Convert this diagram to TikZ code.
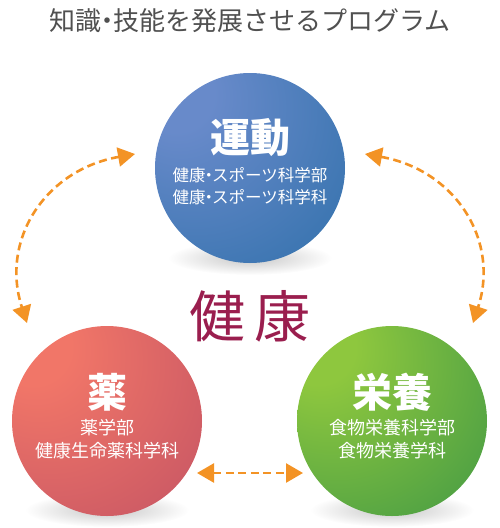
\documentclass[tikz,border=0pt]{standalone}
\usepackage{fontspec}
\newfontfamily\jp{Noto Sans CJK JP}
\usetikzlibrary{arrows.meta}
\definecolor{blueA}{RGB}{104,138,202}
\definecolor{blueB}{RGB}{26,102,158}
\definecolor{redA}{RGB}{241,118,104}
\definecolor{redB}{RGB}{178,70,98}
\definecolor{greenA}{RGB}{142,199,62}
\definecolor{greenB}{RGB}{34,134,72}
\definecolor{arrowc}{RGB}{243,147,37}
\definecolor{titlec}{RGB}{80,80,80}
\definecolor{kenkoc}{RGB}{154,30,78}
\pgfdeclareradialshading{blueball}{\pgfpoint{-22bp}{22bp}}{color(0bp)=(blueA); color(10bp)=(blueA); color(68bp)=(blueB); color(90bp)=(blueB)}
\pgfdeclareradialshading{redball}{\pgfpoint{-22bp}{22bp}}{color(0bp)=(redA); color(10bp)=(redA); color(68bp)=(redB); color(90bp)=(redB)}
\pgfdeclareradialshading{greenball}{\pgfpoint{-22bp}{22bp}}{color(0bp)=(greenA); color(10bp)=(greenA); color(68bp)=(greenB); color(90bp)=(greenB)}
\newcommand\nakaguro[1]{\kern-#1・\kern-#1}
\tikzset{
  ballnode/.style={circle, minimum size=190pt, inner sep=0pt, shade},
  heading/.style={text=white, font=\jp\bfseries\fontsize{40}{44}\selectfont},
  subtext/.style={text=white, align=center},
  link/.style={draw=arrowc, line width=2.6pt, dash pattern=on 8pt off 4.5pt,
    {Triangle[length=17pt,width=19pt]}-{Triangle[length=17pt,width=19pt]}},
}
\begin{document}
\begin{tikzpicture}[x=1pt,y=-1pt]
\useasboundingbox (0,0) rectangle (500,528);
% shadows
\foreach \cx/\cy in {250/258,107/510,392/510}{
  \shade[inner color=black!22, outer color=white] (\cx,\cy) ellipse [x radius=82, y radius=17];
}
% title
\node[text=titlec, font=\jp\fontsize{26}{30}\selectfont] (title) at (250,21) {知識\nakaguro{7pt}技能を発展させるプログラム};
% balls
\node[ballnode, shading=blueball] (undo) at (250,168) {};
\node[ballnode, shading=redball] (kusuri) at (107,421) {};
\node[ballnode, shading=greenball] (eiyo) at (392,421) {};
% headings
\node[heading] (undoh) at (250,138) {運動};
\node[subtext, font=\jp\fontsize{16.5}{22}\selectfont] (undos) at (250,186) {健康\nakaguro{5pt}スポーツ科学部\\健康\nakaguro{5pt}スポーツ科学科};
\node[heading] (kusurih) at (107,392) {薬};
\node[subtext, font=\jp\fontsize{18}{23}\selectfont] (kusuris) at (107,439) {薬学部\\健康生命薬科学科};
\node[heading] (eiyoh) at (392,392) {栄養};
\node[subtext, font=\jp\fontsize{18}{23}\selectfont] (eiyos) at (392,439) {食物栄養科学部\\食物栄養学科};
% center
\node[text=kenkoc, font=\jp\fontsize{56}{60}\selectfont] (kenko) at (250,316) {健\hspace{9pt}康};
% arrows
\coordinate (l1) at (135,154);
\coordinate (l2) at (27,323);
\coordinate (r1) at (365,154);
\coordinate (r2) at (473,323);
\coordinate (b1) at (197,473);
\coordinate (b2) at (303,473);
\draw[link] (l1) .. controls (45,170) and (0,240) .. (l2);
\draw[link] (r1) .. controls (455,170) and (500,240) .. (r2);
\draw[link] (b1) -- (b2);
\end{tikzpicture}
\end{document}
